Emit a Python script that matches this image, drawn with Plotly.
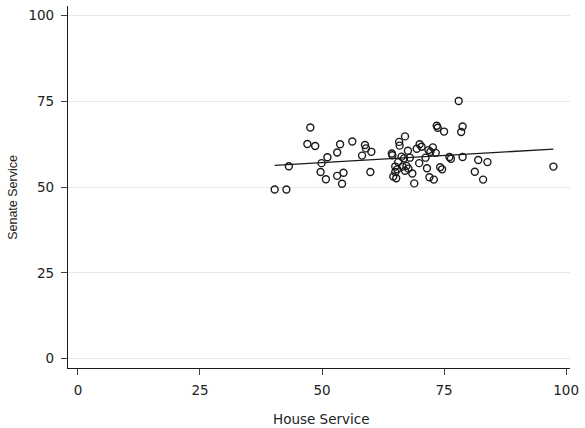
import numpy as np
import plotly.graph_objects as go

# Years of service: House vs Senate, one point per member
house_service = [
    40.3, 42.7, 43.2, 47.0, 47.6, 48.6, 49.7, 49.9, 50.8, 51.1,
    53.1, 53.7, 53.1, 54.4, 54.1, 56.2, 58.2, 58.8, 59.0, 60.1,
    59.9, 64.3, 64.4, 64.6, 65.0, 65.2, 65.8, 65.9, 65.6, 66.3,
    66.8, 67.0, 65.0, 65.4, 66.5, 67.3, 67.7, 67.0, 67.6, 68.0,
    68.5, 68.9, 69.4, 69.9, 70.0, 70.4, 71.2, 71.5, 71.8, 72.2,
    72.7, 73.3, 72.0, 72.9, 73.5, 73.7, 75.0, 74.2, 74.6, 76.1,
    76.4, 78.0, 78.8, 78.5, 78.8, 81.3, 82.0, 83.0, 83.9, 97.4,
]
senate_service = [
    49.3, 49.3, 56.1, 62.6, 67.4, 62.0, 54.4, 57.0, 52.3, 58.7,
    60.1, 62.5, 53.3, 54.2, 51.0, 63.3, 59.2, 62.3, 61.3, 60.3,
    54.4, 59.8, 59.3, 53.1, 54.4, 52.6, 63.2, 62.1, 57.3, 58.9,
    58.4, 64.8, 56.0, 55.2, 56.0, 56.2, 55.4, 54.8, 60.6, 58.6,
    54.0, 51.1, 61.2, 57.0, 62.5, 61.8, 58.6, 55.5, 60.8, 60.3,
    61.6, 60.0, 52.9, 52.2, 67.9, 67.3, 66.2, 55.8, 55.2, 58.8,
    58.3, 75.1, 67.7, 66.1, 58.8, 54.5, 57.9, 52.2, 57.3, 56.0,
]
tick_values = [0, 25, 50, 75, 100]
tick_labels = ["0", "25", "50", "75", "100"]

x = np.array(house_service)
y = np.array(senate_service)
slope, intercept = np.polyfit(x, y, 1)
fit_x = np.array([x.min(), x.max()])
fit_y = intercept + slope * fit_x

ink = "#1a1a1a"
tick_font = dict(family="DejaVu Sans", size=13.5, color="#222222")

fig = go.Figure()
fig.add_trace(go.Scatter(
    x=house_service, y=senate_service, mode="markers",
    marker=dict(symbol="circle-open", size=7, color=ink, line=dict(width=1.4, color=ink)),
    showlegend=False, hoverinfo="x+y",
))
fig.add_trace(go.Scatter(
    x=fit_x, y=fit_y, mode="lines",
    line=dict(color=ink, width=1.3),
    showlegend=False, hoverinfo="skip",
))

fig.update_layout(
    width=585, height=428,
    margin=dict(l=68, r=13, t=6, b=60),
    paper_bgcolor="white", plot_bgcolor="white",
    xaxis=dict(
        range=[-2.04, 100.8], tickvals=tick_values, ticktext=tick_labels,
        showline=True, linecolor=ink, linewidth=1.2, mirror=False,
        ticks="outside", ticklen=6, tickwidth=1, tickcolor="#444444",
        showgrid=False, zeroline=False, tickfont=tick_font,
        ticklabelstandoff=4,
    ),
    yaxis=dict(
        range=[-2.7, 102.8], tickvals=tick_values, ticktext=tick_labels,
        showline=True, linecolor=ink, linewidth=1.2, mirror=False,
        ticks="outside", ticklen=6, tickwidth=1, tickcolor="#444444",
        showgrid=True, gridcolor="#e8e8e8", gridwidth=1,
        zeroline=False, tickfont=tick_font,
        ticklabelstandoff=4,
    ),
    annotations=[
        dict(text="House Service", xref="paper", yref="paper", x=0.505, y=0,
             yshift=-51, xanchor="center", yanchor="middle", showarrow=False,
             font=dict(family="DejaVu Sans", size=13.5, color="#222222")),
        dict(text="Senate Service", xref="paper", yref="paper", x=0, y=0.47,
             xshift=-55, xanchor="center", yanchor="middle", showarrow=False,
             textangle=-90,
             font=dict(family="Liberation Sans", size=12.5, color="#222222")),
    ],
)

fig.write_html("out.html")
